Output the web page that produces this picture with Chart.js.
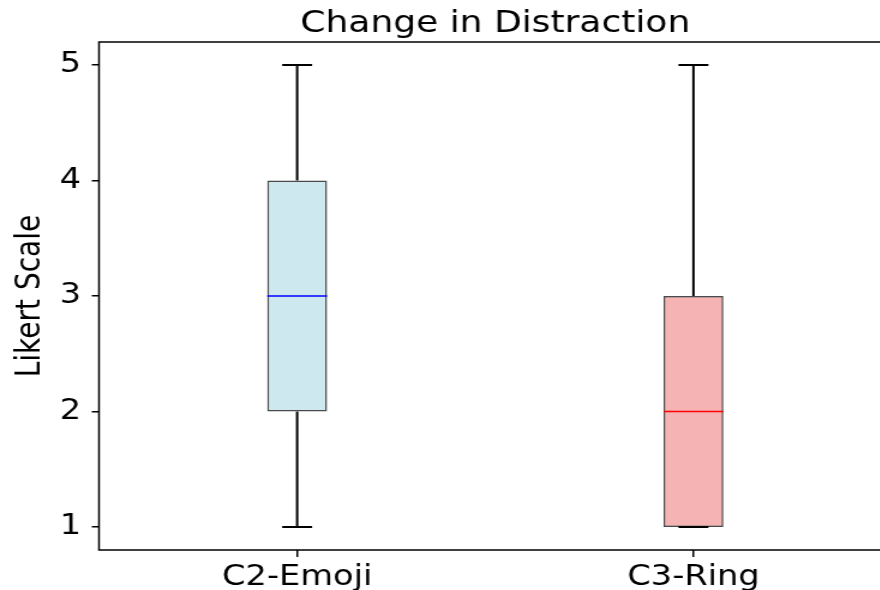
<!DOCTYPE html>
<html>
<head>
<meta charset="utf-8">
<title>Change in Distraction</title>
<script src="https://cdn.jsdelivr.net/npm/chart.js@4.4.0/dist/chart.umd.min.js"></script>
<style>
    html, body { margin: 0; padding: 0; background: #fff; overflow: hidden; }
    /* a figura original está esticada na horizontal */
    #wrap { width: 743px; height: 590px; transform: scaleX(1.2); transform-origin: 0 0; }
</style>
</head>
<body>
<div id="wrap"><canvas id="chart" width="743" height="590"></canvas></div>
<script>
// Dados do boxplot
const categories = ['C2-Emoji', 'C3-Ring'];
const q1Values = [2, 1];
const q3Values = [4, 3];
const medianValues = [3, 2];
const whiskerLow = [1, 1];
const whiskerHigh = [5, 5];
const yTicks = [1, 2, 3, 4, 5];

const boxColors = ['rgba(173, 216, 230, 0.6)', 'rgba(240, 128, 128, 0.6)'];
const medianColors = ['#0000ff', '#ff0000'];

// Bigodes, medianas e moldura
const boxPlotExtras = {
    id: 'boxPlotExtras',
    beforeDatasetsDraw(chart) {
        const ctx = chart.ctx;
        const x = chart.scales.x;
        const y = chart.scales.y;
        ctx.save();
        ctx.strokeStyle = '#000';
        ctx.lineWidth = 2;
        categories.forEach((c, i) => {
            const cx = x.getPixelForValue(i);
            ctx.beginPath();
            ctx.moveTo(cx, y.getPixelForValue(q3Values[i]));
            ctx.lineTo(cx, y.getPixelForValue(whiskerHigh[i]));
            ctx.moveTo(cx, y.getPixelForValue(q1Values[i]));
            ctx.lineTo(cx, y.getPixelForValue(whiskerLow[i]));
            ctx.stroke();
        });
        ctx.restore();
    },
    afterDatasetsDraw(chart) {
        const ctx = chart.ctx;
        const x = chart.scales.x;
        const y = chart.scales.y;
        const meta = chart.getDatasetMeta(0);
        ctx.save();
        categories.forEach((c, i) => {
            const cx = x.getPixelForValue(i);
            const w = meta.data[i].width;
            // tampas
            ctx.strokeStyle = '#000';
            ctx.lineWidth = 2;
            ctx.beginPath();
            [whiskerHigh[i], whiskerLow[i]].forEach(v => {
                const py = y.getPixelForValue(v);
                ctx.moveTo(cx - w / 4, py);
                ctx.lineTo(cx + w / 4, py);
            });
            ctx.stroke();
            // mediana
            const my = y.getPixelForValue(medianValues[i]);
            ctx.strokeStyle = medianColors[i];
            ctx.lineWidth = 1.5;
            ctx.beginPath();
            ctx.moveTo(cx - w / 2, my);
            ctx.lineTo(cx + w / 2, my);
            ctx.stroke();
        });
        // moldura
        const a = chart.chartArea;
        ctx.strokeStyle = '#000';
        ctx.lineWidth = 1.5;
        ctx.strokeRect(a.left, a.top, a.right - a.left, a.bottom - a.top);
        ctx.restore();
    }
};

new Chart(document.getElementById('chart'), {
    type: 'bar',
    data: {
        labels: categories,
        datasets: [{
            data: categories.map((c, i) => [q1Values[i], q3Values[i]]),
            backgroundColor: boxColors,
            borderColor: '#4a4a4a',
            borderWidth: 1.5,
            borderSkipped: false,
            categoryPercentage: 1,
            barPercentage: 0.151
        }]
    },
    options: {
        responsive: false,
        animation: false,
        layout: { padding: 0 },
        plugins: {
            legend: { display: false },
            tooltip: { enabled: false },
            title: {
                display: true,
                text: 'Change in Distraction',
                fullSize: false,
                color: '#000',
                font: { family: 'DejaVu Sans', size: 30, weight: 'normal', lineHeight: 1.1 },
                padding: { top: 8, bottom: 1 }
            }
        },
        scales: {
            x: {
                offset: true,
                grid: { display: true, offset: false, drawOnChartArea: false, drawTicks: true, tickLength: 7, color: '#000', lineWidth: 1.5 },
                border: { display: false },
                ticks: { color: '#000', padding: 4, font: { family: 'DejaVu Sans', size: 28 } },
                afterFit(scale) { scale.height = 40; }
            },
            y: {
                min: 0.8,
                max: 5.2,
                afterBuildTicks(scale) { scale.ticks = yTicks.map(v => ({ value: v })); },
                grid: { display: true, drawOnChartArea: false, drawTicks: true, tickLength: 6, color: '#000', lineWidth: 1.5 },
                border: { display: false },
                ticks: { color: '#000', padding: 9, font: { family: 'DejaVu Sans', size: 28 } },
                title: {
                    display: true,
                    text: 'Likert Scale',
                    color: '#000',
                    font: { family: 'DejaVu Sans', size: 28 },
                    padding: { top: 8.5, bottom: 0 }
                },
                afterFit(scale) { scale.width = 82.5; }
            }
        }
    },
    plugins: [boxPlotExtras]
});
</script>
</body>
</html>
